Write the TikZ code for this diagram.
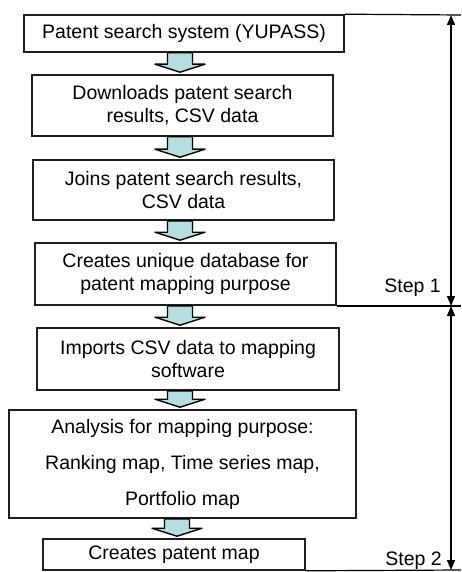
\documentclass[tikz,border=0pt]{standalone}
\usepackage{fontspec}
\setmainfont{Liberation Sans}
\usetikzlibrary{arrows.meta,calc}
\definecolor{arrowfill}{RGB}{182,222,224}
\definecolor{boxline}{RGB}{30,30,30}
\tikzset{
  stepbox/.style={draw=boxline, line width=1.6pt, fill=white, align=center,
    inner sep=0pt, font=\fontsize{19.5}{23}\selectfont},
  guide/.style={line width=1.2pt, draw=black},
  dim/.style={line width=1.2pt, {Triangle[length=10pt,width=8pt]}-{Triangle[length=10pt,width=8pt]}},
  steplabel/.style={font=\fontsize{19.5}{23}\selectfont, inner sep=0pt, anchor=base east}
}
\newcommand{\flowarrow}[3]{%
  \path let \p1=(#1.south), \p2=(#2.north) in
    [draw=black, line width=1.4pt, fill=arrowfill, line join=round]
    (#3-12.5pt,\y1) -- (#3-12.5pt,\y2+10pt) -- (#3-25pt,\y2+10pt)
    -- (#3,\y2+2pt) -- (#3+25pt,\y2+10pt) -- (#3+12.5pt,\y2+10pt)
    -- (#3+12.5pt,\y1) -- cycle;}
\begin{document}
\begin{tikzpicture}[x=1pt,y=-1pt]
\useasboundingbox (0,0) rectangle (461,572);
% boxes
\node[stepbox, minimum width=320pt, minimum height=37pt] (b1) at (184,33.5) {Patent search system (YUPASS)};
\node[stepbox, minimum width=301pt, minimum height=61pt] (b2) at (182.5,105.5) {Downloads patent search\\results, CSV data};
\node[stepbox, minimum width=301pt, minimum height=60pt] (b3) at (183.5,190) {Joins patent search results,\\CSV data};
\node[stepbox, minimum width=301pt, minimum height=62pt] (b4) at (185.5,274) {Creates unique database for\\patent mapping purpose};
\node[stepbox, minimum width=302pt, minimum height=62pt] (b5) at (188,359) {Imports CSV data to mapping\\software};
\node[stepbox, minimum width=347pt, minimum height=108pt] (b6) at (182.5,464) {Analysis for mapping purpose:\\[13pt]Ranking map, Time series map,\\[13pt]Portfolio map};
\node[stepbox, minimum width=262pt, minimum height=31pt] (b7) at (174,554.5) {Creates patent map};
% block arrows
\flowarrow{b1}{b2}{180pt}
\flowarrow{b2}{b3}{180pt}
\flowarrow{b3}{b4}{180pt}
\flowarrow{b4}{b5}{180pt}
\flowarrow{b5}{b6}{180pt}
\flowarrow{b6}{b7}{177pt}
% step guides
\coordinate (g1) at (461,15);
\coordinate (g2) at (461,306);
\coordinate (g3) at (461,570);
\coordinate (v1) at (451,15);
\coordinate (v2) at (451,306);
\coordinate (v3) at (451,570);
\draw[guide] (b1.north east) -- (g1);
\draw[guide] (b4.south east |- g2) -- (g2);
\draw[guide] (b7.south east) -- (g3);
\draw[dim] (v1) -- (v2);
\draw[dim] (v2) -- (v3);
\node[steplabel] (s1) at (441,292) {Step 1};
\node[steplabel] (s2) at (442,565) {Step 2};
\end{tikzpicture}
\end{document}
